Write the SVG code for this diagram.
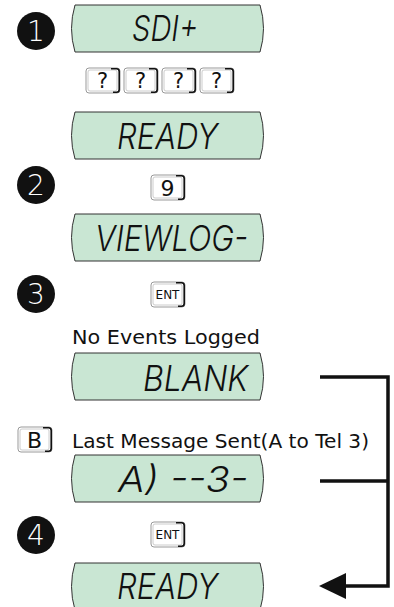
<svg xmlns="http://www.w3.org/2000/svg" width="394" height="607" viewBox="0 0 394 607">
<defs>
<style>
.lcd{fill:#c9e6d3;stroke:#333;stroke-width:1}
.seg{font-family:Inter,"DejaVu Sans",sans-serif;font-style:italic;font-weight:300;font-size:35px;fill:#111}
.num circle{fill:#111}
.num text{font-family:"DejaVu Sans","Liberation Sans",sans-serif;font-weight:300;font-size:28px;fill:#fff;text-anchor:middle}
.kout{fill:#fff;stroke:#999;stroke-width:1}
.kin{fill:none;stroke:#ccc;stroke-width:1}
.kdark{fill:none;stroke:#111;stroke-width:1.6}
.ktxt{font-family:"DejaVu Sans","Liberation Sans",sans-serif;fill:#111;text-anchor:middle}
.lbl{font-family:"DejaVu Sans","Liberation Sans",sans-serif;font-size:20px;fill:#111}
.conn{fill:none;stroke:#111;stroke-width:3.5}
</style>
<path id="lcdshape" d="M75,0 L260,0 Q267,23.5 260,47 L75,47 Q68,23.5 75,0 Z"/>
<g id="keyshape">
<rect class="kout" x="0" y="0" width="34" height="25" rx="3"/>
<rect class="kin" x="2" y="2" width="29" height="21" rx="2"/>
<path class="kdark" d="M25,0.8 L30.5,0.8 Q33.2,0.8 33.2,3.5 L33.2,21.5 Q33.2,24.2 30.5,24.2 L27,24.2"/>
</g>
</defs>

<g id="step1">
<g class="num"><circle cx="36" cy="31" r="19"/><text x="36" y="41">1</text></g>
</g>
<g id="lcd-sdi">
<use href="#lcdshape" class="lcd" transform="translate(0,5)"/>
<text class="seg" x="132" y="41" textLength="66" lengthAdjust="spacingAndGlyphs">SDI+</text>
</g>
<g id="keys-code">
<g transform="translate(86,68)"><use href="#keyshape"/><text class="ktxt" x="16.5" y="20" font-size="21">?</text></g>
<g transform="translate(124,68)"><use href="#keyshape"/><text class="ktxt" x="16.5" y="20" font-size="21">?</text></g>
<g transform="translate(162,68)"><use href="#keyshape"/><text class="ktxt" x="16.5" y="20" font-size="21">?</text></g>
<g transform="translate(200,68)"><use href="#keyshape"/><text class="ktxt" x="16.5" y="20" font-size="21">?</text></g>
</g>
<g id="lcd-ready1">
<use href="#lcdshape" class="lcd" transform="translate(0,112)"/>
<text class="seg" x="117" y="149" textLength="101" lengthAdjust="spacingAndGlyphs">READY</text>
</g>
<g id="step2">
<g class="num"><circle cx="36" cy="185" r="19"/><text x="36" y="195">2</text></g>
</g>
<g id="key-9">
<g transform="translate(151,175)"><use href="#keyshape"/><text class="ktxt" x="16.5" y="20.5" font-size="22">9</text></g>
</g>
<g id="lcd-viewlog">
<use href="#lcdshape" class="lcd" transform="translate(0,214)"/>
<text class="seg" x="95" y="251" textLength="153" lengthAdjust="spacingAndGlyphs">VIEWLOG-</text>
</g>
<g id="step3">
<g class="num"><circle cx="36" cy="294" r="19"/><text x="36" y="304">3</text></g>
</g>
<g id="key-ent1">
<g transform="translate(151,282)"><use href="#keyshape"/><text class="ktxt" x="16.5" y="17" font-size="12">ENT</text></g>
</g>
<text class="lbl" x="72" y="344" textLength="188" lengthAdjust="spacingAndGlyphs">No Events Logged</text>
<g id="lcd-blank">
<use href="#lcdshape" class="lcd" transform="translate(0,353)"/>
<text class="seg" x="143" y="391" textLength="105" lengthAdjust="spacingAndGlyphs">BLANK</text>
</g>
<g id="key-b">
<g transform="translate(18,427)"><use href="#keyshape"/><text class="ktxt" x="16.5" y="20.5" font-size="22">B</text></g>
</g>
<text class="lbl" x="72" y="448" textLength="297" lengthAdjust="spacingAndGlyphs">Last Message Sent(A to Tel 3)</text>
<g id="lcd-a3">
<use href="#lcdshape" class="lcd" transform="translate(0,455)"/>
<text class="seg" x="118" y="492" textLength="130" lengthAdjust="spacingAndGlyphs">A) --3-</text>
</g>
<g id="step4">
<g class="num"><circle cx="36" cy="535" r="19"/><text x="36" y="545">4</text></g>
</g>
<g id="key-ent2">
<g transform="translate(151,522)"><use href="#keyshape"/><text class="ktxt" x="16.5" y="17" font-size="12">ENT</text></g>
</g>
<g id="lcd-ready2">
<use href="#lcdshape" class="lcd" transform="translate(0,563)"/>
<text class="seg" x="117" y="599" textLength="101" lengthAdjust="spacingAndGlyphs">READY</text>
</g>

<g id="connectors">
<path class="conn" d="M320,377 L388,377 L388,586 L342,586"/>
<path class="conn" d="M320,481 L388,481"/>
<polygon points="319,586 346,573 346,599" fill="#111"/>
</g>
</svg>
